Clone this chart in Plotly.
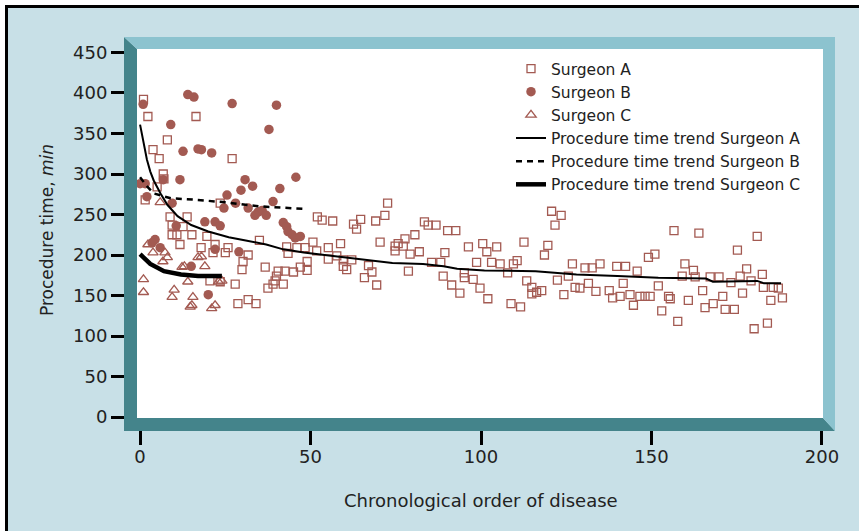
import plotly.graph_objects as go

# ---------------- data ----------------
a_x = [1, 2.3, 16.4, 8, 3.8, 5.6, 6.8, 7, 5, 1.5, 23.5, 8.8, 13.8, 9.4, 12.6, 9.4, 10.8, 15.2, 19.6, 11.7,
       17.9, 22, 21.4, 25, 20.5, 23.5,
       27, 35, 43, 46, 48.4, 50.7, 25.8, 31.7, 30.2, 29.9, 43.4, 49, 47, 49, 36.7, 40.5, 42.5, 40, 39.6, 39,
       37.5, 42, 45, 27.9, 28.7, 31.7, 34, 52, 53.4,
       72.6, 56.5, 64.7, 62.6, 63.5, 71.8, 69.1, 83.4, 84.5, 86.8, 90.2, 92.6, 80.6, 77.7, 75.7, 74.8, 77.2,
       70.4, 58.8, 55.2, 51.8, 74.8, 81.9, 79.2, 89.4, 96.3, 100.5, 101.7, 57.7, 55.2, 59.6, 62.1, 59.6, 60.6,
       67, 68, 65.8, 69.4, 78.7, 85.5, 88.2, 88.9, 91.4, 93.8, 95.1, 95.1, 97.7, 99.7, 102, 98.7,
       120.7, 123.5, 121.7, 104.6, 112.6, 119.6, 118.6, 103.1, 105.6, 109.5, 110.6, 107.8, 126.8, 130.5,
       132.6, 134.9, 139.8, 142.4, 145.8, 149.1, 125.6, 122.4, 113.4, 114.9, 114.9, 116.3, 117.8, 127.6,
       129, 131.5, 133.7, 124.3, 137.6, 138.6, 140.8, 143.7, 141.7, 146.6, 148.1, 149.6, 144.7, 108.8, 111.6,
       156.6, 163.9, 181, 151, 175.2, 159.8, 162.3, 159, 162.8, 167.2, 169.8, 177.9, 176, 182.5, 152, 173.3,
       179.2, 165, 182.8, 185.7, 187.2, 188.4, 155, 155.5, 160.8, 170.9, 176.7, 168.1, 165.7, 171.6, 174.3,
       185, 153, 157.7, 184, 180.1]
a_y = [392, 371, 371, 342, 330, 319, 300, 294, 284, 268, 264, 247, 247, 237, 235, 225, 225, 225, 223, 213,
       209, 213, 203, 203, 168, 167,
       319, 218, 210, 209, 209, 216, 209, 200, 192, 182, 202, 192, 185, 181, 185, 180, 180, 174, 168, 164,
       159, 164, 179, 164, 140, 145, 140, 247, 243,
       264, 242, 244, 238, 232, 249, 242, 241, 237, 237, 230, 230, 225, 220, 214, 211, 211,
       216, 214, 209, 205, 205, 204, 201, 203, 210, 214, 204, 199, 195, 194, 194, 186, 182,
       187, 179, 172, 163, 180, 191, 191, 174, 163, 153, 178, 172, 170, 159, 146, 191,
       254, 249, 237, 210, 216, 212, 200, 191, 189, 189, 193, 178, 189, 184,
       184, 189, 186, 186, 180, 197, 174, 169, 168, 160, 152, 154, 156, 160,
       159, 165, 155, 151, 156, 147, 149, 151, 165, 149, 149, 149, 138, 140, 136,
       230, 227, 223, 201, 206, 189, 181, 174, 173, 173, 173, 183, 174, 176, 162, 166,
       168, 156, 160, 160, 159, 147, 149, 146, 144, 149, 153, 140, 135, 133, 133,
       144, 131, 118, 116, 109]

b_x = [0.9, 14, 15.8, 9, 12.6, 17, 18, 21, 11.7, 6.8, 0, 1.5, 2, 25.5, 9.4, 24.6, 19, 22, 23.5, 10.6,
       4.4, 3.5, 5.9, 22, 15, 20, 27, 40, 37.8, 30.8, 33, 29.6, 45.7, 41, 39, 28, 31.7, 34.6, 35.8, 33.7,
       37, 42, 43, 43.4, 44.6, 45.5, 47, 29]
b_y = [386, 398, 395, 361, 328, 331, 330, 326, 293, 293, 288, 288, 272, 274, 264, 258, 241, 241, 236, 236,
       219, 215, 209, 207, 186, 151, 387, 385, 355, 293, 285, 280, 296, 282, 266, 264, 258, 253, 255, 249,
       249, 240, 235, 229, 225, 221, 223, 204]

c_x = [5.9, 2.3, 3.8, 7.3, 8, 6.7, 17, 18, 12.3, 13, 19, 1, 14, 23, 24, 1, 10, 9.4, 15.5, 14.7, 15.2, 21, 22]
c_y = [265, 213, 203, 203, 197, 192, 197, 198, 185, 186, 186, 170, 167, 167, 168, 154, 157, 148, 148, 136,
       138, 134, 138]

trend_a_x = [0, 1, 2, 3, 4, 6, 8, 11, 15, 20, 26, 31, 37, 42, 48, 56, 64, 74, 83, 89, 93, 101, 116, 128,
             140, 152, 166, 168, 181, 183, 188]
trend_a_y = [361, 338, 318, 303, 292, 276, 262, 248, 237, 229, 222, 218, 213, 207, 203, 199, 195, 190, 189,
             186, 183, 181, 180, 176, 174, 172, 171, 167, 168, 165, 165]
trend_b_x = [0, 2, 4, 9, 17, 25, 35, 48]
trend_b_y = [296, 285, 276, 270, 268, 265, 260, 257]
trend_c_x = [0, 3, 7, 12, 17, 24]
trend_c_y = [201, 189, 180, 176, 174, 174]

x_ticks = [0, 50, 100, 150, 200]
y_ticks = [0, 50, 100, 150, 200, 250, 300, 350, 400, 450]

# ---------------- style ----------------
W, H = 859, 531
L, R, T, B = 137, 823, 49, 418
FONT = "DejaVu Sans"
TXT = "#222"
MARK = "#a35a52"
BG = "#c8e0e7"
LIGHT = "#8cc3cf"
DARK = "#44848b"


def px(x):
    return (x - L) / (R - L)


def py(y):
    return (B - y) / (B - T)


def path(points):
    return "M " + " L ".join(f"{px(a):.5f},{py(b):.5f}" for a, b in points) + " Z"


fig = go.Figure()
fig.add_trace(go.Scatter(x=a_x, y=a_y, mode="markers", name="Surgeon A",
                         marker=dict(symbol="square-open", size=8, color=MARK, line=dict(width=1.3, color=MARK))))
fig.add_trace(go.Scatter(x=b_x, y=b_y, mode="markers", name="Surgeon B",
                         marker=dict(symbol="circle", size=9.5, color=MARK)))
fig.add_trace(go.Scatter(x=c_x, y=c_y, mode="markers", name="Surgeon C",
                         marker=dict(symbol="triangle-up-open", size=9, color=MARK, line=dict(width=1.3, color=MARK))))
fig.add_trace(go.Scatter(x=trend_a_x, y=trend_a_y, mode="lines", name="Procedure time trend Surgeon A",
                         line=dict(color="black", width=2)))
fig.add_trace(go.Scatter(x=trend_b_x, y=trend_b_y, mode="lines", name="Procedure time trend Surgeon B",
                         line=dict(color="black", width=2.5, dash="6px,5px")))
fig.add_trace(go.Scatter(x=trend_c_x, y=trend_c_y, mode="lines", name="Procedure time trend Surgeon C",
                         line=dict(color="black", width=4.5)))

shapes = [
    # dark (left + bottom) frame
    dict(type="path", xref="paper", yref="paper", layer="above", line=dict(width=0), fillcolor=DARK,
         path=path([(124, 37), (137, 49), (137, 418), (823, 418), (835, 431), (124, 431)])),
    # light (top + right) frame
    dict(type="path", xref="paper", yref="paper", layer="above", line=dict(width=0), fillcolor=LIGHT,
         path=path([(124, 37), (835, 37), (835, 431), (823, 418), (823, 49), (137, 49)])),
    # white outer margin strips
    dict(type="rect", xref="paper", yref="paper", layer="above", line=dict(width=0), fillcolor="white",
         x0=px(-5), x1=px(W + 5), y0=py(-5), y1=py(5)),
    dict(type="rect", xref="paper", yref="paper", layer="above", line=dict(width=0), fillcolor="white",
         x0=px(-5), x1=px(5), y0=py(-5), y1=py(H + 5)),
    # black outer border (top, left)
    dict(type="path", xref="paper", yref="paper", layer="above", line=dict(width=3, color="black"),
         path="M " + f"{px(6.5):.5f},{py(H + 5):.5f} L {px(6.5):.5f},{py(6.5):.5f} L {px(W + 5):.5f},{py(6.5):.5f}"),
]

annotations = [
    dict(text="Chronological order of disease", xref="paper", yref="paper", x=px(481), y=py(500),
         xanchor="center", yanchor="middle", showarrow=False, font=dict(family=FONT, size=18, color=TXT)),
    dict(text="Procedure time, <i>min</i>", xref="paper", yref="paper", x=px(47), y=py(230),
         xanchor="center", yanchor="middle", textangle=-90, showarrow=False,
         font=dict(family=FONT, size=17, color=TXT)),
]

fig.update_layout(
    width=W, height=H,
    margin=dict(l=L, r=W - R, t=T, b=H - B, pad=0),
    paper_bgcolor=BG, plot_bgcolor="white",
    font=dict(family=FONT, size=18, color=TXT),
    showlegend=True,
    legend=dict(x=px(511), y=py(52), xanchor="left", yanchor="top", bgcolor="rgba(0,0,0,0)",
                font=dict(family=FONT, size=15.5, color=TXT), tracegroupgap=0, itemwidth=30),
    shapes=shapes,
    annotations=annotations,
    xaxis=dict(range=[-0.9, 200.3], tickvals=x_ticks, ticks="outside", ticklen=26, tickwidth=2.5,
               tickcolor="black", showgrid=False, zeroline=False, showline=False, ticklabelstandoff=-4,
               tickfont=dict(family=FONT, size=18, color=TXT)),
    yaxis=dict(range=[-1.2, 454.3], tickvals=y_ticks, ticks="outside", ticklen=25, tickwidth=2.7,
               tickcolor="black", showgrid=False, zeroline=False, showline=False,
               tickfont=dict(family=FONT, size=18, color=TXT)),
)

fig.write_html("out.html", config={"displayModeBar": False},
               post_script="document.body.style.margin='0';")
